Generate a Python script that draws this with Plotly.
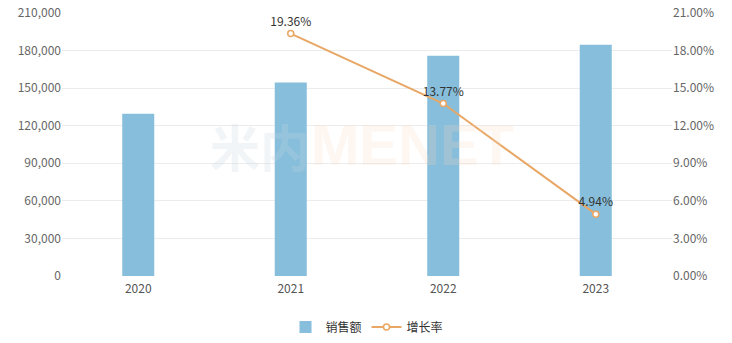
import plotly.graph_objects as go

years = ["2020", "2021", "2022", "2023"]
sales = [129500, 154600, 175900, 184600]
growth_years = ["2021", "2022", "2023"]
growth = [19.36, 13.77, 4.94]
growth_labels = ["19.36%", "13.77%", "4.94%"]
left_ticks = [0, 30000, 60000, 90000, 120000, 150000, 180000, 210000]
right_ticks = [0, 3, 6, 9, 12, 15, 18, 21]

font_family = "Noto Sans CJK SC, Noto Sans, sans-serif"

fig = go.Figure()
fig.add_trace(go.Bar(
    x=years, y=sales, name="销售额",
    marker=dict(color="#86BEDB", line=dict(width=0)),
    width=0.21,
))
fig.add_trace(go.Scatter(
    x=growth_years, y=growth, name="增长率", yaxis="y2",
    mode="lines+markers+text",
    line=dict(color="#E8A765", width=2),
    marker=dict(symbol="circle", size=6, color="white", line=dict(color="#E8A765", width=1.5)),
    text=growth_labels, textposition="top center",
    textfont=dict(size=12, color="#333333"),
    cliponaxis=False,
))

fig.add_annotation(text="<b>米内</b>", x=0.325, y=0.50, xref="paper", yref="paper",
                   showarrow=False, font=dict(size=50, color="rgba(200,215,222,0.25)", family=font_family),
                   xanchor="center", yanchor="middle")
fig.add_annotation(text="<b>MENET</b>", x=0.575, y=0.50, xref="paper", yref="paper",
                   showarrow=False, font=dict(size=58, color="rgba(250,215,185,0.22)", family="Liberation Sans, Arial"),
                   xanchor="center", yanchor="middle")

fig.update_layout(
    width=732, height=343,
    margin=dict(l=62, r=60, t=13, b=67, autoexpand=False),
    paper_bgcolor="white", plot_bgcolor="white",
    font=dict(family=font_family, size=12, color="#666666"),
    showlegend=True,
    legend=dict(orientation="h", x=0.5, xanchor="center", yref="container", y=0.047, yanchor="middle",
                font=dict(size=12, color="#333333"), itemwidth=30),
    xaxis=dict(type="category", showgrid=False, showline=False, ticks="", automargin=False,
               ticklabelstandoff=4, tickfont=dict(size=12, color="#555555")),
    yaxis=dict(range=[0, 210000], tickvals=left_ticks, tickformat=",d", automargin=False,
               showgrid=True, gridcolor="#ECECEC", gridwidth=1, zeroline=False,
               ticks="", tickfont=dict(size=12, color="#666666")),
    yaxis2=dict(range=[0, 21], tickvals=right_ticks, automargin=False,
                ticktext=[f"{v:.2f}%" for v in right_ticks],
                overlaying="y", side="right", showgrid=False, zeroline=False,
                ticks="", tickfont=dict(size=12, color="#666666")),
    bargap=0.79,
)

fig.write_html("out.html")
